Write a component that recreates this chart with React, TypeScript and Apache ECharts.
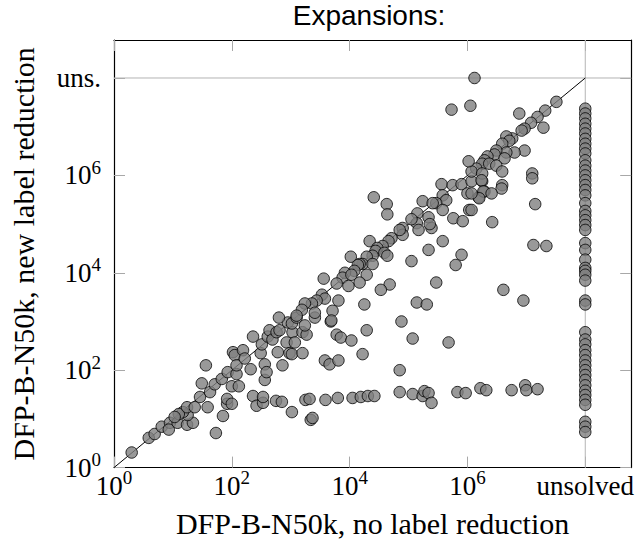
import { useEffect, useRef } from "react";
import * as echarts from "echarts";

// log10 of expansions, DFP-B-N50k without label reduction (x) / with new label reduction (y)
const solvedNoLrLog10 = [
  0.30, 0.59, 0.69, 0.81, 0.95, 0.93, 1.08, 1.24, 1.34, 1.25, 1.17, 1.10, 1.03, 1.24, 1.37, 1.46,
  1.49, 1.56, 1.59, 1.63, 1.71, 1.73, 1.83, 1.85, 1.92, 1.92, 1.93, 2.00, 2.00, 2.02, 2.05, 2.08,
  2.12, 2.08, 2.19, 2.22, 2.32, 2.36, 2.36, 2.42, 2.49, 2.51, 2.53, 2.53, 2.56, 2.56, 2.59, 2.61,
  2.64, 2.69, 2.76, 2.75, 2.78, 2.81, 2.85, 2.86, 2.93, 2.95, 2.98, 3.02, 3.03, 2.80, 3.02, 3.10,
  3.41, 3.68, 3.20, 3.27, 3.07, 3.02, 3.20, 3.78, 3.85, 4.03, 4.29, 4.22, 3.58, 3.66, 3.81, 4.88,
  5.07, 5.68, 4.85, 3.25, 3.32, 3.59, 3.80, 4.05, 4.19, 4.31, 4.42, 3.34, 3.37, 4.85, 5.07, 5.24,
  5.27, 5.34, 5.39, 5.83, 5.97, 6.22, 6.32, 6.75, 6.98, 7.00, 7.19,
  4.41, 4.63, 4.64, 5.56, 5.75, 5.90, 6.07, 6.25, 6.00, 6.19, 6.29, 5.58, 5.64, 5.47, 5.24, 5.41,
  5.15, 5.58, 6.03, 5.76, 5.92, 5.34, 5.14, 5.05, 4.90, 5.17, 5.39, 5.36, 4.90, 4.85, 4.71, 4.34,
  4.66, 4.56, 4.47, 4.44, 4.59, 4.64, 4.39, 4.29, 4.22, 4.17, 4.02, 5.58, 5.34, 5.05, 5.90, 5.80,
  4.39, 4.14, 4.08, 3.92, 3.88, 4.03, 4.29, 4.17, 3.98, 3.78, 3.56, 5.47, 4.68, 4.53, 3.53, 3.58,
  3.44, 3.36, 3.24, 3.19, 3.10, 3.71, 3.69, 3.81, 4.25, 5.14, 5.31, 3.41, 3.24,
  6.05, 5.73, 7.51, 7.32, 6.88, 7.19, 7.08, 7.29, 6.97, 6.92, 6.76, 6.66, 6.71, 6.59, 6.97, 6.80,
  6.66, 6.49, 6.46, 6.63, 6.34, 6.29, 6.25, 6.37, 6.49, 6.15, 6.07, 6.25, 6.59, 7.10, 6.24, 6.59,
  6.58, 6.27, 6.20, 6.41, 6.07, 6.07, 7.15, 6.42, 7.12, 7.34, 6.61, 6.95, 6.02, 7.10,
];
const solvedNewLrLog10 = [
  0.31, 0.61, 0.69, 0.84, 0.92, 0.78, 0.92, 0.88, 0.92, 1.08, 1.14, 1.10, 1.04, 1.24, 1.24, 1.45,
  1.73, 2.10, 1.24, 1.55, 1.71, 0.71, 1.82, 1.06, 1.31, 1.41, 1.96, 1.31, 1.67, 2.37, 2.31, 1.92,
  1.67, 2.10, 2.41, 2.24, 2.02, 1.47, 2.69, 1.27, 2.35, 2.53, 1.33, 1.45, 1.80, 2.12, 1.96, 2.69,
  2.82, 2.63, 2.78, 1.37, 2.37, 2.82, 1.35, 2.10, 2.57, 2.98, 2.35, 1.14, 2.78, 3.08, 2.96, 3.08,
  3.08, 3.00, 2.78, 2.73, 2.57, 2.33, 2.35, 2.73, 2.67, 2.61, 2.82, 2.33, 2.20, 2.12, 2.20, 3.00,
  2.65, 2.57, 2.00, 1.39, 1.41, 1.39, 1.43, 1.43, 1.45, 1.47, 1.47, 0.98, 1.02, 1.55, 1.51, 1.47,
  1.57, 1.53, 1.33, 1.55, 1.53, 1.63, 1.59, 1.59, 1.69, 1.59, 1.61,
  5.55, 5.41, 5.20, 5.82, 5.80, 5.82, 5.88, 5.88, 5.63, 5.55, 5.67, 5.59, 5.49, 5.43, 5.47, 5.43,
  5.22, 5.29, 5.29, 5.12, 5.06, 5.14, 5.02, 5.10, 4.92, 4.88, 4.92, 5.00, 4.78, 4.88, 4.71, 4.65,
  4.65, 4.55, 4.51, 4.45, 4.41, 4.35, 4.35, 4.33, 4.18, 4.18, 4.33, 4.65, 4.47, 4.24, 4.37, 4.16,
  4.18, 4.16, 4.04, 4.00, 3.90, 3.96, 3.96, 3.80, 3.73, 3.78, 3.88, 3.80, 3.76, 3.65, 3.55, 3.47,
  3.43, 3.37, 3.37, 3.24, 3.12, 3.22, 3.02, 3.43, 3.35, 3.39, 3.35, 3.18, 2.92,
  7.43, 7.35, 7.51, 7.33, 7.27, 7.20, 7.08, 6.98, 6.96, 6.92, 6.76, 6.80, 6.71, 6.65, 6.51, 6.47,
  6.47, 6.51, 6.43, 6.35, 6.39, 6.31, 6.24, 6.24, 6.20, 6.14, 6.08, 6.04, 6.08, 6.04, 5.90, 5.80,
  5.73, 5.67, 5.53, 5.63, 5.63, 5.29, 5.41, 5.04, 4.57, 4.55, 3.65, 3.43, 6.29, 5.94,
];

// solved only without label reduction (new label reduction: unsolved)
const onlyNoLrSolvedLog10 = [6.12];

// solved only with new label reduction (no label reduction: unsolved)
const onlyNewLrSolvedLog10 = [
  7.37, 7.27, 7.17, 7.06, 6.96, 6.86, 6.75, 6.65, 6.55, 6.45, 6.31, 6.20, 6.10, 6.00, 5.90, 5.80,
  5.70, 5.59, 5.43, 5.27, 5.18, 5.08, 4.98, 4.88, 4.61, 4.47, 4.27, 4.10, 4.04, 3.96, 3.84, 3.43,
  3.35, 2.78, 2.63, 2.53, 2.41, 2.31, 2.20, 2.10, 2.00, 1.90, 1.80, 1.69, 1.58, 1.49, 1.39, 1.29,
  0.94, 0.84, 0.73,
];

const UNSOLVED_LOG10 = 8;
const AXIS_MAX_LOG10 = 8.78;
const tickExponents = [0, 2, 4, 6, 8];
const xTickLabels = ["10^0", "10^2", "10^4", "10^6", "unsolved"];
const yTickLabels = ["10^0", "10^2", "10^4", "10^6", "uns."];

const SERIF = '"Liberation Serif", "Times New Roman", serif';
const SANS = '"Liberation Sans", Arial, sans-serif';

function toRich(label: string) {
  const m = /^10\^(\d+)$/.exec(label);
  if (m) return `{b|10}{s|${m[1]}}`;
  return `{b|${label}}`;
}

function makeFormatter(labels: string[]) {
  return (v: number) => {
    const i = tickExponents.findIndex((t) => Math.abs(t - v) < 1e-6);
    return i >= 0 ? toRich(labels[i]) : "";
  };
}

const rich = {
  b: { fontFamily: SERIF, fontSize: 27, lineHeight: 36, color: "#000" },
  s: { fontFamily: SERIF, fontSize: 19, lineHeight: 20, padding: [0, 0, 16, 0], color: "#000" },
};

export default function App() {
  const ref = useRef<HTMLDivElement>(null);
  useEffect(() => {
    document.body.style.margin = "0";
    const chart = echarts.init(ref.current!, null, { renderer: "svg" });
    const tickStyle = { show: true, inside: true, length: 11, lineStyle: { color: "#a8a8a8", width: 1 } };
    const lineStyle = { show: true, onZero: false, lineStyle: { color: "#000", width: 1.2 } };
    const baseAxis = {
      type: "value" as const,
      min: 0,
      max: AXIS_MAX_LOG10,
      interval: 2,
      splitLine: { show: false },
      axisLine: lineStyle,
      axisTick: { ...tickStyle, customValues: tickExponents },
    };
    const solvedData = solvedNoLrLog10.map((x, i) => [x, solvedNewLrLog10[i]]);
    const unsolvedYData = onlyNoLrSolvedLog10.map((x) => [x, UNSOLVED_LOG10]);
    const unsolvedXData = onlyNewLrSolvedLog10.map((y) => [UNSOLVED_LOG10, y]);
    const scatterStyle = { color: "#808080", borderColor: "#000", borderWidth: 1 };
    chart.setOption({
      animation: false,
      grid: { left: 114, right: 5, top: 40, bottom: 72, containLabel: false },
      graphic: [
        {
          type: "text",
          x: 369,
          y: 15,
          style: {
            text: "Expansions:",
            fontFamily: SANS,
            fontSize: 28,
            fill: "#000",
            align: "center",
            verticalAlign: "middle",
          },
        },
      ],
      xAxis: [
        {
          ...baseAxis,
          position: "bottom",
          name: "DFP-B-N50k, no label reduction",
          nameLocation: "middle",
          nameGap: 28,
          nameTextStyle: { fontFamily: SERIF, fontSize: 30, color: "#000" },
          axisLabel: {
            margin: 0,
            formatter: makeFormatter(xTickLabels),
            customValues: tickExponents,
            rich,
          },
        },
        { ...baseAxis, position: "top", axisLabel: { show: false } },
      ],
      yAxis: [
        {
          ...baseAxis,
          position: "left",
          name: "DFP-B-N50k, new label reduction",
          nameLocation: "middle",
          nameGap: 76,
          nameTextStyle: { fontFamily: SERIF, fontSize: 30, color: "#000" },
          axisLabel: {
            margin: 13,
            formatter: makeFormatter(yTickLabels),
            customValues: tickExponents,
            rich,
          },
        },
        { ...baseAxis, position: "right", axisLabel: { show: false } },
      ],
      series: [
        {
          type: "line",
          data: [[UNSOLVED_LOG10, 0], [UNSOLVED_LOG10, AXIS_MAX_LOG10]],
          symbol: "none",
          lineStyle: { color: "#b4b4b4", width: 1 },
          z: 1,
        },
        {
          type: "line",
          data: [[0, UNSOLVED_LOG10], [AXIS_MAX_LOG10, UNSOLVED_LOG10]],
          symbol: "none",
          lineStyle: { color: "#b4b4b4", width: 1 },
          z: 1,
        },
        {
          type: "line",
          data: [[0, 0], [UNSOLVED_LOG10, UNSOLVED_LOG10]],
          symbol: "none",
          lineStyle: { color: "#000", width: 1 },
          z: 2,
        },
        {
          type: "scatter",
          data: solvedData,
          symbolSize: 11.5,
          itemStyle: scatterStyle,
          z: 3,
        },
        {
          type: "scatter",
          data: unsolvedYData,
          symbolSize: 11.5,
          itemStyle: scatterStyle,
          z: 3,
        },
        {
          type: "scatter",
          data: unsolvedXData,
          symbolSize: 11.5,
          itemStyle: scatterStyle,
          z: 3,
        },
      ],
    });
    return () => chart.dispose();
  }, []);
  return <div ref={ref} style={{ width: 637, height: 543 }} />;
}
